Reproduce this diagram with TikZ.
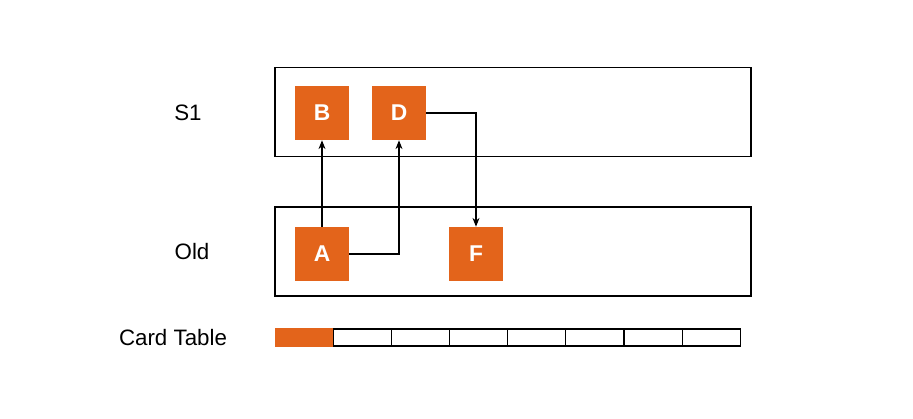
\documentclass[tikz,border=0pt]{standalone}
\usepackage{fontspec}
\setmainfont{Liberation Sans}
\usetikzlibrary{positioning, arrows.meta}
\definecolor{regorange}{HTML}{E3641B}
\tikzset{
  region/.style={rectangle, draw=black, line width=0.9pt, minimum width=9.52cm, minimum height=1.78cm, inner sep=0pt},
  obj/.style={rectangle, fill=regorange, minimum size=1.08cm, inner sep=0pt, text=white, font=\fontsize{13}{15}\selectfont\bfseries},
  cell/.style={rectangle, draw=black, line width=0.6pt, minimum width=1.162cm, minimum height=0.34cm, inner sep=0pt, outer sep=0pt},
  dirty/.style={cell, fill=regorange, draw=regorange},
  lbl/.style={font=\fontsize{12.7}{15}\selectfont},
  ref/.style={line width=0.6pt, -{Stealth[length=5pt,width=4pt]}}
}
\begin{document}
\begin{tikzpicture}[x=0.02cm, y=-0.02cm]
  \useasboundingbox (0,0) rectangle (913,419);

  % regions
  \node (s1) [region] at (513,112) {};
  \node (old) [region] at (513,251.5) {};
  \node (s1lbl) [lbl] at (188,113) {S1};
  \node (oldlbl) [lbl] at (192,252) {Old};

  % objects
  \node (b) [obj] at (322,113) {B};
  \node (d) [obj] at (399,113) {D};
  \node (a) [obj] at (322,254) {A};
  \node (f) [obj] at (476,254) {F};

  % references
  \draw [ref] (a) -- (b);
  \draw [ref] (a.east) -| (d.south);
  \draw [ref] (d.east) -| (f.north);

  % card table
  \node (cardlbl) [lbl] at (173,338) {Card Table};
  \node (cell1) [dirty] at (304.5,337.5) {};
  \foreach \i [remember=\i as \j (initially 1)] in {2,...,8}
    \node (cell\i) [cell, right=0pt of cell\j] {};
\end{tikzpicture}
\end{document}
